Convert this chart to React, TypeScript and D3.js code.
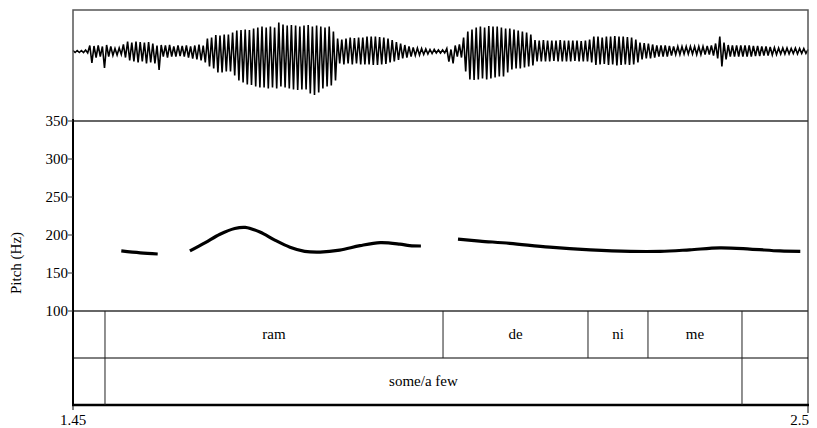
import React, { useEffect, useRef } from "react";
import * as d3 from "d3";

// time axis (s)
const timeRange = [1.45, 2.5];
const timeTickLabels = ["1.45", "2.5"];

// waveform envelope, one max/min pair every 6 ms from 1.45 s (arbitrary units)
const waveStep = 0.006;
const waveMax = [
  1, 1, 1, 1.5, 6, 5.5, 6, 5, 6.5, 5,
  3, 3.5, 7, 10, 9, 10, 9.5, 9, 9.5, 8,
  6, 6.5, 6, 6.5, 5, 6, 5.5, 6, 5, 6,
  7, 6, 13, 14, 16.5, 16, 17, 17, 19, 21,
  21.5, 22, 21.5, 23, 24, 25, 24, 25, 24, 29,
  27, 26, 26.5, 26, 25, 26, 26.5, 25, 26, 25,
  24, 25, 20, 13, 12, 13, 14, 13.5, 14, 14,
  15, 15, 15, 14.5, 14, 13, 11.5, 9.5, 8, 6.5,
  5, 4, 3.5, 3, 2.5, 2, 2, 1.5, 1.5, 3,
  2, 6, 7, 14, 20, 22, 24, 25, 24, 25.5,
  25, 25, 24, 23, 23, 22, 21, 20, 19, 17,
  11.5, 11, 11.5, 11, 11, 11, 11.5, 11, 11, 11,
  11, 10.5, 11, 12, 15, 15, 14, 15, 15, 15.5,
  15, 15, 14.5, 14, 12, 9, 8.5, 8, 7, 6,
  6, 6, 5.5, 5, 5, 5, 5, 5, 5, 5,
  5, 5.5, 6, 8, 15, 9, 6.5, 6, 6, 6,
  6, 6, 5.5, 5.5, 5, 5, 4.5, 4, 3.5, 3.5,
  3.5, 3, 3.5, 3, 3, 2,
];
const waveMin = [
  -1, -1, -1, -1.5, -11.5, -6, -5, -16.5, -5, -4,
  -3.5, -3, -6, -9, -10, -11, -10, -12, -11, -12,
  -18.5, -5, -6, -5, -5, -4.5, -5, -6, -7, -8,
  -9, -11, -15, -17, -21, -21, -20, -20, -24, -29,
  -31, -33, -33.5, -35, -36, -36, -37, -36, -37, -35,
  -36, -37, -38, -38.5, -38, -38, -42, -43.5, -41, -37,
  -35, -34, -29, -12, -13, -12, -13, -12, -13, -13,
  -13, -13.5, -13.5, -13, -12.5, -11, -10, -8.5, -7, -6,
  -5, -4, -3.5, -3, -2.5, -2, -1.5, -1.5, -1.5, -10,
  -12, -5, -6, -20, -28, -28.5, -28, -27, -28, -27,
  -26, -25, -25, -21, -18, -17, -17, -16, -15, -14,
  -10, -10, -10, -10, -9.5, -10, -10, -10, -10, -9.5,
  -10, -10, -10, -11, -13.5, -13, -12.5, -13.5, -13, -14,
  -13.5, -13, -13.5, -13, -11, -8, -7, -7, -6, -5,
  -5, -5, -4, -3, -3, -2.5, -2.5, -2.5, -3, -3,
  -3, -3, -4, -7, -15, -8, -5, -5, -5, -5,
  -5, -5, -4.5, -4.5, -4, -4, -3.5, -3, -2.5, -2.5,
  -2.5, -2, -2.5, -2, -2, -1,
];

// pitch contour (null = unvoiced gap)
const pitchTimes = [
  1.519, 1.546, 1.571, 1.59,
  1.617, 1.639, 1.66, 1.681, 1.696, 1.717, 1.739, 1.76, 1.781, 1.803,
  1.831, 1.86, 1.889, 1.917, 1.931, 1.947, 1.97,
  2.0, 2.031, 2.074, 2.131, 2.189, 2.246, 2.289, 2.331, 2.374, 2.417, 2.46, 2.489,
];
const pitchHz = [
  179, 176.5, 175, null,
  179, 190, 201, 208.5, 210, 204, 193, 184, 178.5, 177.5,
  180, 186, 190, 188, 186, 185.5, null,
  194.5, 192, 189, 184, 180.5, 178.5, 178.5, 180.5, 183, 181.5, 179, 178.5,
];
const pitchTicks = [100, 150, 200, 250, 300, 350];

// text grid
const syllableEdges = [1.45, 1.4957, 1.9786, 2.1857, 2.2714, 2.4057, 2.5];
const syllableLabels = ["", "ram", "de", "ni", "me", ""];
const glossEdges = [1.45, 1.4957, 2.4057, 2.5];
const glossLabels = ["", "some/a few", ""];

const App = () => {
  const chartRef = useRef();

  useEffect(() => {
    drawChart();
  }, []);

  const drawChart = () => {
    const svg = d3.select(chartRef.current);
    svg.selectAll("*").remove();

    const left = 73, right = 808;
    const waveTop = 10, pitchTop = 121, pitchBottom = 311, tierMid = 358, bottom = 405;

    const x = d3.scaleLinear().domain(timeRange).range([left, right]);
    const yWave = d3.scaleLinear().domain([-69.5, 41.5]).range([pitchTop, waveTop]);
    const yPitch = d3.scaleLinear().domain([100, 350]).range([pitchBottom, pitchTop]);

    // waveform as a zigzag between each bin's max and min
    const wavePts = [];
    waveMax.forEach((v, i) => {
      const t = timeRange[0] + i * waveStep;
      wavePts.push([x(t), yWave(v)]);
      if (i < waveMax.length - 1) wavePts.push([x(t + waveStep / 2), yWave(waveMin[i])]);
    });
    svg.append("path")
      .attr("d", d3.line()(wavePts))
      .attr("fill", "none")
      .attr("stroke", "#000")
      .attr("stroke-width", 1.6);

    // pitch contour
    const pitchData = pitchTimes.map((t, i) => ({ t, hz: pitchHz[i] }));
    svg.append("path")
      .datum(pitchData)
      .attr("fill", "none")
      .attr("stroke", "#000")
      .attr("stroke-width", 3.2)
      .attr("d", d3.line()
        .defined(d => d.hz != null)
        .x(d => x(d.t))
        .y(d => yPitch(d.hz))
        .curve(d3.curveCatmullRom)
      );

    // frame and panel separators
    svg.append("rect")
      .attr("x", left).attr("y", waveTop)
      .attr("width", right - left).attr("height", bottom - waveTop)
      .attr("fill", "none").attr("stroke", "#555").attr("stroke-width", 1.5);
    [pitchTop, pitchBottom].forEach(yy => {
      svg.append("line")
        .attr("x1", left).attr("x2", right).attr("y1", yy).attr("y2", yy)
        .attr("stroke", "#333").attr("stroke-width", 1.5);
    });
    svg.append("line")
      .attr("x1", left).attr("x2", right).attr("y1", tierMid).attr("y2", tierMid)
      .attr("stroke", "#000").attr("stroke-width", 1);
    svg.append("line")
      .attr("x1", left).attr("x2", left).attr("y1", pitchTop - 2).attr("y2", bottom)
      .attr("stroke", "#000").attr("stroke-width", 2);
    svg.append("line")
      .attr("x1", left - 1).attr("x2", right + 1).attr("y1", bottom).attr("y2", bottom)
      .attr("stroke", "#000").attr("stroke-width", 2.5);

    // pitch axis
    const yAxis = svg.append("g");
    pitchTicks.forEach(v => {
      yAxis.append("line")
        .attr("x1", left - 5).attr("x2", left).attr("y1", yPitch(v)).attr("y2", yPitch(v))
        .attr("stroke", "#333").attr("stroke-width", 1);
      yAxis.append("text")
        .attr("x", left - 5).attr("y", yPitch(v)).attr("dy", "0.35em")
        .attr("text-anchor", "end")
        .text(v);
    });
    svg.append("text")
      .attr("transform", `translate(21, ${(pitchTop + bottom) / 2}) rotate(-90)`)
      .attr("text-anchor", "middle")
      .text("Pitch (Hz)");

    // time axis
    timeRange.forEach((t, i) => {
      svg.append("line")
        .attr("x1", x(t)).attr("x2", x(t)).attr("y1", bottom).attr("y2", bottom + (i ? 8 : 5))
        .attr("stroke", "#000").attr("stroke-width", 1);
      svg.append("text")
        .attr("x", i ? x(t) + 1 : x(t)).attr("y", bottom + 20)
        .attr("text-anchor", i ? "end" : "middle")
        .text(timeTickLabels[i]);
    });

    // text grid tiers
    const drawTier = (edges, labels, y0, y1) => {
      edges.slice(1, -1).forEach(e => {
        svg.append("line")
          .attr("x1", x(e)).attr("x2", x(e)).attr("y1", y0).attr("y2", y1)
          .attr("stroke", "#222").attr("stroke-width", 1);
      });
      labels.forEach((lab, i) => {
        if (!lab) return;
        svg.append("text")
          .attr("x", (x(edges[i]) + x(edges[i + 1])) / 2)
          .attr("y", (y0 + y1) / 2).attr("dy", "0.3em")
          .attr("text-anchor", "middle")
          .text(lab);
      });
    };
    drawTier(syllableEdges, syllableLabels, pitchBottom, tierMid);
    drawTier(glossEdges, glossLabels, tierMid, bottom);

    svg.selectAll("text")
      .attr("font-family", "Liberation Serif, DejaVu Serif")
      .attr("font-size", 15)
      .attr("fill", "#000");
  };

  return (
    <svg
      ref={chartRef}
      width={817}
      height={428}
      style={{ position: "absolute", left: 0, top: 0, background: "#fff" }}
    />
  );
};

export default App;
